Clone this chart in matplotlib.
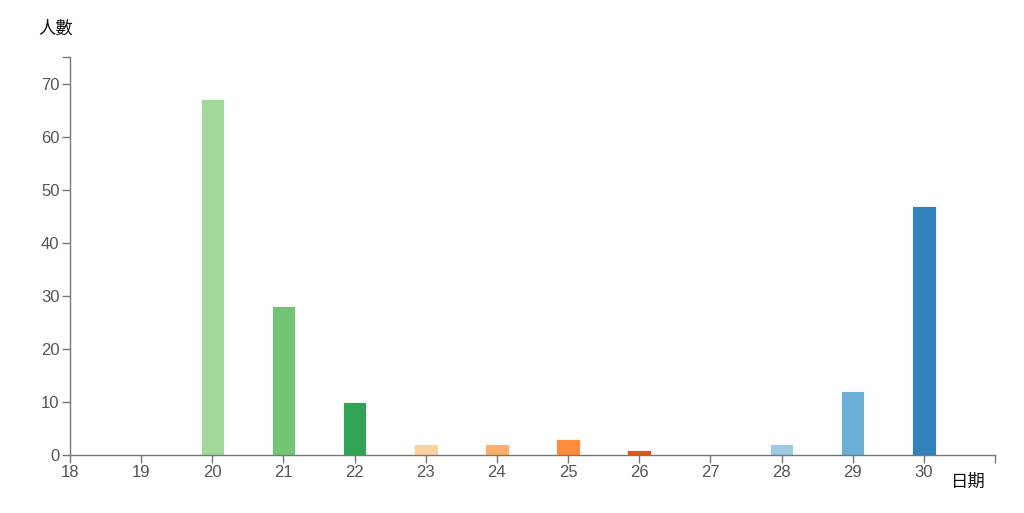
import matplotlib.pyplot as plt

days = [20, 21, 22, 23, 24, 25, 26, 27, 28, 29, 30]
counts = [67, 28, 10, 2, 2, 3, 1, 0, 2, 12, 47]
colors = ["#a1d99b", "#74c476", "#31a354", "#fdd0a2", "#fdae6b", "#fd8d3c",
          "#e6550d", "#dadaeb", "#9ecae1", "#6baed6", "#3182bd"]
xticks = list(range(18, 31))
yticks = list(range(0, 71, 10))

plt.rcParams['font.family'] = ['Liberation Sans', 'Noto Sans CJK TC', 'DejaVu Sans']

fig = plt.figure(figsize=(10.24, 5.13), dpi=100)
ax = fig.add_axes([70 / 1024, 58 / 513, 925 / 1024, 398 / 513])

ax.bar(days, counts, width=0.33, color=colors, edgecolor="white", linewidth=0.6)

ax.set_xlim(18, 31)
ax.set_ylim(0, 75)
ax.set_xticks(xticks)
ax.set_yticks(yticks)
# outer ticks at axis ends, like d3
ax.set_xticks([31], minor=True)
ax.set_yticks([75], minor=True)

for s in ["top", "right"]:
    ax.spines[s].set_visible(False)
for s in ["left", "bottom"]:
    ax.spines[s].set_color("#777777")
    ax.spines[s].set_linewidth(1)

ax.tick_params(which="both", length=6, width=1, color="#777777",
               labelsize=12, labelcolor="#555555", pad=1.5)

fig.text(38 / 1024, 1 - 29 / 513, "人數", fontsize=12.5, color="#111111",
         family=['Noto Sans CJK TC', 'DejaVu Sans'], weight="medium",
         va="center", ha="left")
fig.text(986 / 1024, 1 - 482 / 513, "日期", fontsize=12.5, color="#111111",
         family=['Noto Sans CJK TC', 'DejaVu Sans'], weight="medium",
         va="center", ha="right")

fig.savefig("out.png", dpi=100)
